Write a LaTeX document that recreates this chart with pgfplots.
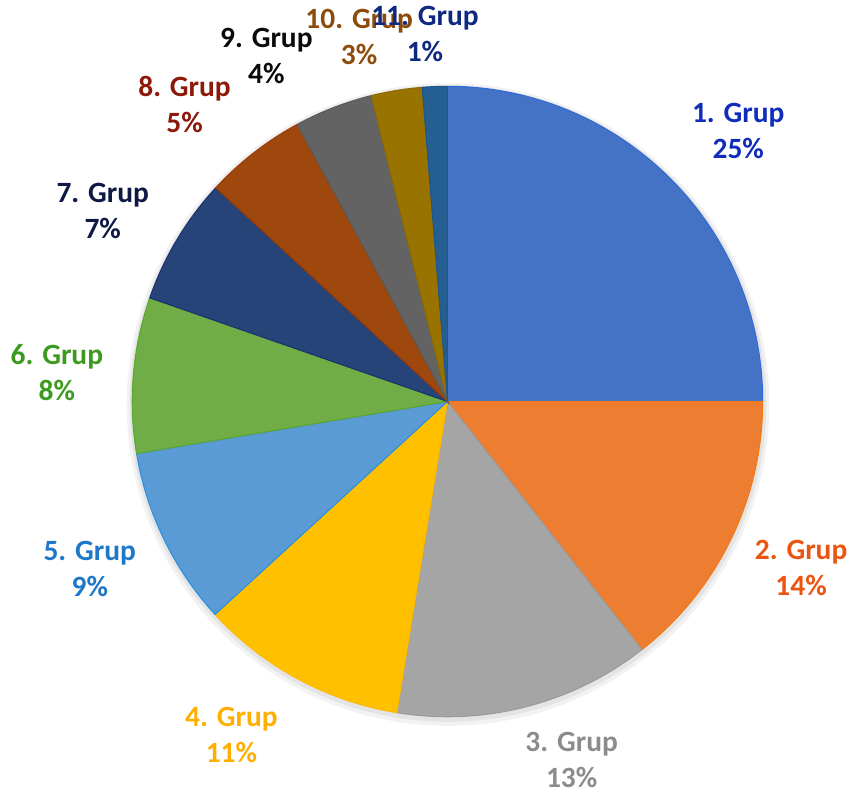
\documentclass[border=0pt]{standalone}
\usepackage{pgfplots}
\pgfplotsset{compat=1.18}
\usepackage{fontspec}
\setmainfont{Carlito}
% slice colours
\definecolor{s1}{HTML}{4472C4}\definecolor{e1}{HTML}{2F6AD8}
\definecolor{s2}{HTML}{ED7D31}\definecolor{e2}{HTML}{F57A10}
\definecolor{s3}{HTML}{A5A5A5}\definecolor{e3}{HTML}{9A9A9A}
\definecolor{s4}{HTML}{FFC000}\definecolor{e4}{HTML}{FFB800}
\definecolor{s5}{HTML}{5B9BD5}\definecolor{e5}{HTML}{2590E0}
\definecolor{s6}{HTML}{70AD47}\definecolor{e6}{HTML}{5AA82A}
\definecolor{s7}{HTML}{264478}\definecolor{e7}{HTML}{1A3070}
\definecolor{s8}{HTML}{9E480E}\definecolor{e8}{HTML}{A03A00}
\definecolor{s9}{HTML}{636363}\definecolor{e9}{HTML}{5A5A5A}
\definecolor{s10}{HTML}{997300}\definecolor{e10}{HTML}{8F6A00}
\definecolor{s11}{HTML}{255E91}\definecolor{e11}{HTML}{1F5590}
% label colours
\definecolor{l1}{RGB}{15,45,185}
\definecolor{l2}{RGB}{235,85,15}
\definecolor{l3}{RGB}{140,140,140}
\definecolor{l4}{RGB}{255,175,0}
\definecolor{l5}{RGB}{30,120,200}
\definecolor{l6}{RGB}{60,155,30}
\definecolor{l7}{RGB}{15,25,70}
\definecolor{l8}{RGB}{140,25,10}
\definecolor{l9}{RGB}{10,10,10}
\definecolor{l10}{RGB}{140,75,10}
\definecolor{l11}{RGB}{15,40,130}
\tikzset{lbl/.style={font=\fontsize{14.75}{18}\selectfont\bfseries, align=center}}
\begin{document}
\begin{tikzpicture}
\begin{axis}[
  x=0.5pt, y=0.5pt,
  xmin=0, xmax=854, ymin=0, ymax=798,
  hide axis, clip=false,
]
\path (axis cs:0,0) rectangle (axis cs:854,798);
% soft shadow
\addplot[draw=none, fill=black, opacity=0.05, forget plot] coordinates {(449,394)} circle[radius=322];
\addplot[draw=none, fill=black, opacity=0.06, forget plot] coordinates {(449,395)} circle[radius=319];
% wedges: share (%) -> boundary angles, clockwise from 90 deg
% 25.00 14.42 13.15 10.63 9.17 7.97 6.53 5.22 4.03 2.61 1.28
\addplot[fill=s1, draw=e1, line width=0.5pt] coordinates {(448.5,397)} -- ++(90:316) arc[start angle=90, end angle=0, radius=316] -- cycle;
\addplot[fill=s2, draw=e2, line width=0.5pt] coordinates {(448.5,397)} -- ++(0:316) arc[start angle=0, end angle=-51.9, radius=316] -- cycle;
\addplot[fill=s3, draw=e3, line width=0.5pt] coordinates {(448.5,397)} -- ++(-51.9:316) arc[start angle=-51.9, end angle=-99.25, radius=316] -- cycle;
\addplot[fill=s4, draw=e4, line width=0.5pt] coordinates {(448.5,397)} -- ++(-99.25:316) arc[start angle=-99.25, end angle=-137.5, radius=316] -- cycle;
\addplot[fill=s5, draw=e5, line width=0.5pt] coordinates {(448.5,397)} -- ++(-137.5:316) arc[start angle=-137.5, end angle=-170.5, radius=316] -- cycle;
\addplot[fill=s6, draw=e6, line width=0.5pt] coordinates {(448.5,397)} -- ++(-170.5:316) arc[start angle=-170.5, end angle=-199.2, radius=316] -- cycle;
\addplot[fill=s7, draw=e7, line width=0.5pt] coordinates {(448.5,397)} -- ++(-199.2:316) arc[start angle=-199.2, end angle=-222.7, radius=316] -- cycle;
\addplot[fill=s8, draw=e8, line width=0.5pt] coordinates {(448.5,397)} -- ++(-222.7:316) arc[start angle=-222.7, end angle=-241.5, radius=316] -- cycle;
\addplot[fill=s9, draw=e9, line width=0.5pt] coordinates {(448.5,397)} -- ++(-241.5:316) arc[start angle=-241.5, end angle=-256.0, radius=316] -- cycle;
\addplot[fill=s10, draw=e10, line width=0.5pt] coordinates {(448.5,397)} -- ++(-256.0:316) arc[start angle=-256.0, end angle=-265.4, radius=316] -- cycle;
\addplot[fill=s11, draw=e11, line width=0.5pt] coordinates {(448.5,397)} -- ++(-265.4:316) arc[start angle=-265.4, end angle=-270, radius=316] -- cycle;
% labels
\node[lbl, text=l1]  at (axis cs:740,668) {1. Grup\\25\%};
\node[lbl, text=l2]  at (axis cs:803,230) {2. Grup\\14\%};
\node[lbl, text=l3]  at (axis cs:573,38)  {3. Grup\\13\%};
\node[lbl, text=l4]  at (axis cs:232,63)  {4. Grup\\11\%};
\node[lbl, text=l5]  at (axis cs:90,229)  {5. Grup\\9\%};
\node[lbl, text=l6]  at (axis cs:57,426)  {6. Grup\\8\%};
\node[lbl, text=l7]  at (axis cs:103,588) {7. Grup\\7\%};
\node[lbl, text=l8]  at (axis cs:185,695) {8. Grup\\5\%};
\node[lbl, text=l9]  at (axis cs:267,743) {9. Grup\\4\%};
\node[lbl, text=l10] at (axis cs:360,762) {10. Grup\\3\%};
\node[lbl, text=l11] at (axis cs:426,765) {11. Grup\\1\%};
\end{axis}
\end{tikzpicture}
\end{document}
